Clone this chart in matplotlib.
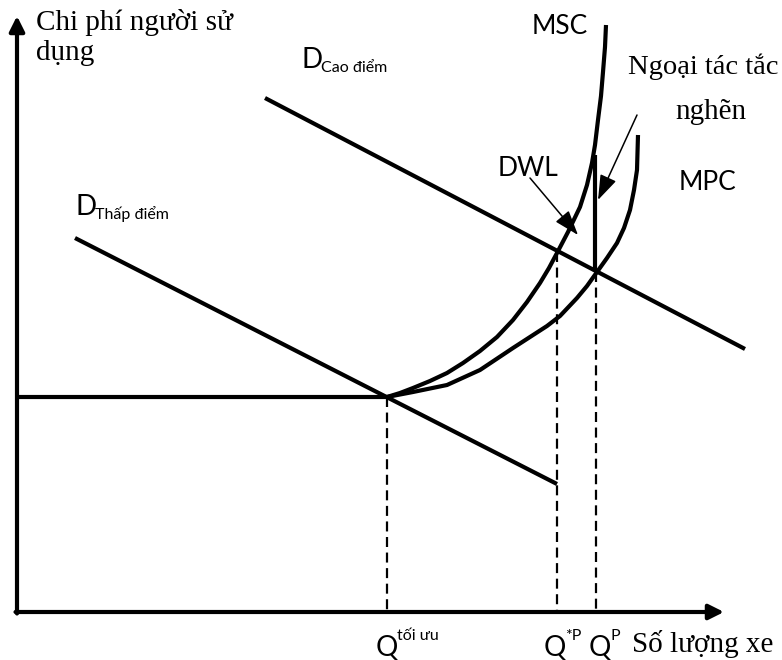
"""Traffic congestion externality diagram (peak vs off-peak demand, MPC vs MSC)."""

import matplotlib
matplotlib.use("Agg")
import matplotlib.pyplot as plt

SANS = "Lato"
SERIF = "Liberation Serif"
BLACK = "black"

# ---------------------------------------------------------------- data (pixel space, y down)
axis_origin = (17, 612)
y_axis_top = 16
x_axis_right = 724

flat_x = [17, 387]
flat_y = [397, 397]

d_off_x = [75, 557]          # D Thấp điểm
d_off_y = [238, 484]
d_peak_x = [265, 745]        # D Cao điểm
d_peak_y = [98, 349]

msc_x = [387, 400, 413, 430, 447, 463, 480, 497, 513, 527, 540, 549, 557,
         568, 580, 587, 592, 595, 598, 601, 603, 605, 606]
msc_y = [397, 393, 388, 381, 373, 363, 351, 337, 320, 302, 283, 268, 253,
         232, 207, 185, 163, 145, 120, 96, 72, 47, 25]
mpc_x = [387, 413, 447, 480, 513, 547, 560, 577, 587, 597, 607, 617, 624,
         630, 634, 637, 638]
mpc_y = [397, 392, 385, 370, 348, 326, 316, 298, 286, 272, 258, 243, 228,
         210, 190, 170, 135]

q_opt, q_star, q_p = 387, 557, 596
q_opt_y, q_star_y, q_p_y = 397, 252, 272
ext_top = 155                # top of congestion-externality segment

# ---------------------------------------------------------------- figure
fig = plt.figure(figsize=(7.82, 6.6), dpi=100)
ax = fig.add_axes([0, 0, 1, 1])
ax.set_xlim(0, 782)
ax.set_ylim(660, 0)
ax.axis("off")

LW = 3.0
ox, oy = axis_origin
# axes with arrow heads
ax.annotate("", xy=(ox, y_axis_top), xytext=(ox, oy + 1.5),
            arrowprops=dict(arrowstyle="-|>,head_length=0.9,head_width=0.45",
                            color=BLACK, lw=LW, shrinkA=0, shrinkB=0))
ax.annotate("", xy=(x_axis_right, oy), xytext=(ox - 1.5, oy),
            arrowprops=dict(arrowstyle="-|>,head_length=0.9,head_width=0.45",
                            color=BLACK, lw=LW, shrinkA=0, shrinkB=0))

# curves
ax.plot(flat_x, flat_y, color=BLACK, lw=LW, solid_capstyle="butt")
ax.plot(d_off_x, d_off_y, color=BLACK, lw=LW, solid_capstyle="butt")
ax.plot(d_peak_x, d_peak_y, color=BLACK, lw=LW, solid_capstyle="butt")
ax.plot(msc_x, msc_y, color=BLACK, lw=LW, solid_joinstyle="round", solid_capstyle="butt")
ax.plot(mpc_x, mpc_y, color=BLACK, lw=LW, solid_joinstyle="round", solid_capstyle="butt")

# externality segment
ax.plot([q_p - 1, q_p - 1], [ext_top, q_p_y], color=BLACK, lw=LW, solid_capstyle="butt")

# dashed drop lines
for qx, qy in [(q_opt, q_opt_y), (q_star, q_star_y), (q_p, q_p_y)]:
    ax.plot([qx, qx], [qy, oy], color=BLACK, lw=1.6, dashes=(4.5, 2.5))

# pointer arrows
arrow_kw = dict(arrowstyle="-|>,head_length=1.1,head_width=0.38", color=BLACK,
                lw=1.1, shrinkA=0, shrinkB=0, mutation_scale=14)
ax.annotate("", xy=(578, 235), xytext=(530, 178), arrowprops=arrow_kw)
ax.annotate("", xy=(598, 200), xytext=(637, 115), arrowprops=arrow_kw)

# ---------------------------------------------------------------- labels
ax.text(36, 23, "Chi phí người sử", family=SERIF, fontsize=21, va="center", ha="left")
ax.text(36, 53, "dụng", family=SERIF, fontsize=21, va="center", ha="left")
ax.text(628, 67, "Ngoại tác tắc", family=SERIF, fontsize=20.5, va="center", ha="left")
ax.text(675, 112, "nghẽn", family=SERIF, fontsize=21, va="center", ha="left")

ax.text(532, 26, "MSC", family=SANS, fontsize=19, va="center", ha="left")
ax.text(498, 168, "DWL", family=SANS, fontsize=19, va="center", ha="left")
ax.text(679, 183, "MPC", family=SANS, fontsize=19, va="center", ha="left")

ax.text(302, 68, "D", family=SANS, fontsize=20, va="baseline", ha="left")
ax.text(321, 72, "Cao điểm", family=SANS, fontsize=11.5, va="baseline", ha="left")
ax.text(76, 215, "D", family=SANS, fontsize=20, va="baseline", ha="left")
ax.text(95, 219, "Thấp điểm", family=SANS, fontsize=11.5, va="baseline", ha="left")

ax.text(376, 656, "Q", family=SANS, fontsize=20, va="baseline", ha="left")
ax.text(397, 640, "tối ưu", family=SANS, fontsize=11.5, va="baseline", ha="left")
ax.text(544, 656, "Q", family=SANS, fontsize=20, va="baseline", ha="left")
ax.text(565, 640, "*P", family=SANS, fontsize=11.5, va="baseline", ha="left")
ax.text(589, 656, "Q", family=SANS, fontsize=20, va="baseline", ha="left")
ax.text(610, 640, "P", family=SANS, fontsize=11.5, va="baseline", ha="left")
ax.text(632, 652, "Số lượng xe", family=SERIF, fontsize=21, va="baseline", ha="left")

fig.savefig("out.png", dpi=100, facecolor="white")
